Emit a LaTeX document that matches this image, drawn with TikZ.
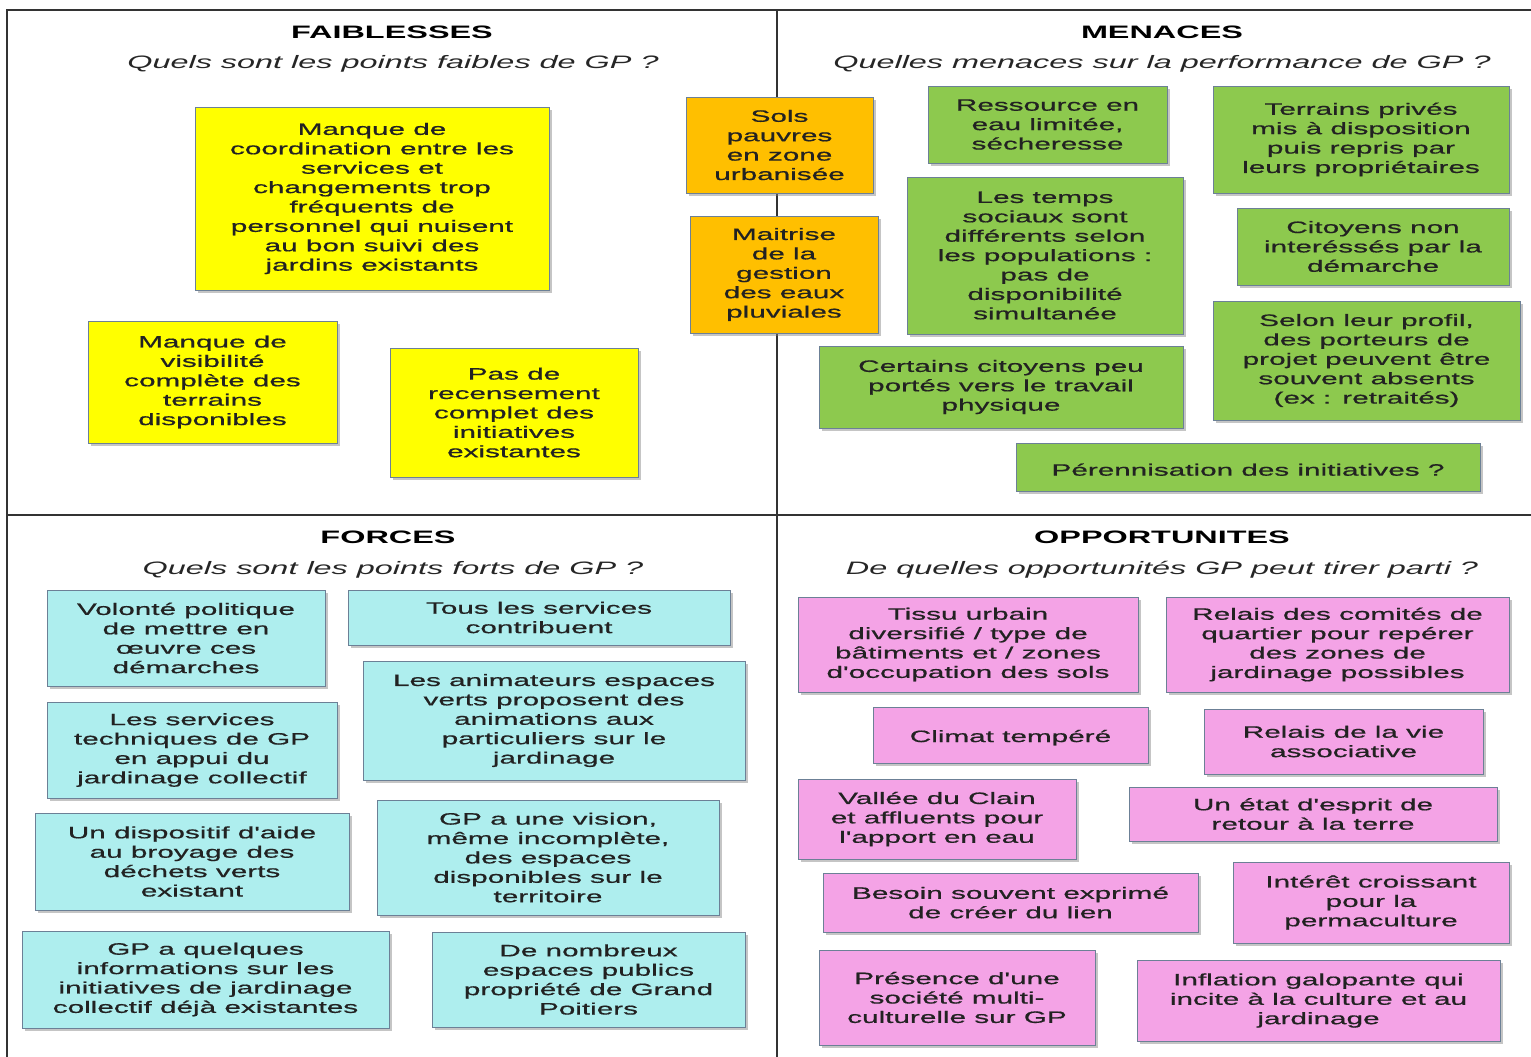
\documentclass[tikz,border=0pt]{standalone}
\usepackage{fontspec}
\setmainfont{Liberation Sans}[FakeStretch=1.8]
\newfontfamily\notefont{Liberation Sans}[FakeStretch=1.8, FakeBold=0.7]
\usetikzlibrary{shadows}

\definecolor{weakfill}{HTML}{FFFF00}
\definecolor{sharedfill}{HTML}{FFBF00}
\definecolor{threatfill}{HTML}{8DC94E}
\definecolor{strongfill}{HTML}{AEEEEE}
\definecolor{chancefill}{HTML}{F4A3E6}
\definecolor{noteedge}{HTML}{6C8096}
\definecolor{notetext}{HTML}{222222}

\tikzset{
  note/.style={draw=noteedge, line width=0.8pt, align=center, inner sep=0pt,
    text=notetext, font=\notefont\fontsize{16.5}{19.4}\selectfont,
    execute at begin node={\rule{0pt}{17.5pt}},
    drop shadow={shadow xshift=2.5pt, shadow yshift=-2.5pt, opacity=0.45}},
  wh/.style 2 args={minimum width=#1pt, minimum height=#2pt},
  weak/.style={note, fill=weakfill},
  shared/.style={note, fill=sharedfill},
  threat/.style={note, fill=threatfill},
  strong/.style={note, fill=strongfill},
  chance/.style={note, fill=chancefill},
  heading/.style={font=\fontsize{18}{20}\selectfont\bfseries, text=black},
  question/.style={font=\fontsize{18}{20}\selectfont\itshape, text=black!85},
  frame/.style={draw=black!80, line width=1.2pt}
}

\begin{document}
\begin{tikzpicture}[x=1pt, y=-1pt]

\useasboundingbox (0,0) rectangle (1531,1057);
\fill [white] (0,0) rectangle (1531,1057);

\draw [frame] (7,1057) -- (7,10) -- (1531,10);
\draw [frame] (7,515) -- (1531,515);
\draw [frame] (777,10) -- (777,1057);

\node [heading] (weaktitle) at (392,32) {FAIBLESSES};
\node [question] (weakquestion) at (393,63.5) {Quels sont les points faibles de GP ?};
\node [heading] (threattitle) at (1162,32) {MENACES};
\node [question] (threatquestion) at (1162,63.5) {Quelles menaces sur la performance de GP ?};
\node [heading] (strongtitle) at (388,537) {FORCES};
\node [question] (strongquestion) at (393,569.5) {Quels sont les points forts de GP ?};
\node [heading] (chancetitle) at (1162,537) {OPPORTUNITES};
\node [question] (chancequestion) at (1162,569.5) {De quelles opportunités GP peut tirer parti ?};

\node [weak, wh={354}{183}] (coordination) at (372,198.5) {Manque de\\coordination entre les\\services et\\changements trop\\fréquents de\\personnel qui nuisent\\au bon suivi des\\jardins existants};
\node [weak, wh={249}{122}] (visibilite) at (212.5,382) {Manque de\\visibilité\\complète des\\terrains\\disponibles};
\node [weak, wh={248}{129}] (recensement) at (514,412.5) {Pas de\\recensement\\complet des\\initiatives\\existantes};

\node [shared, wh={187}{96}] (sols) at (779.5,145) {Sols\\pauvres\\en zone\\urbanisée};
\node [shared, wh={188}{117}] (pluviales) at (784,274.5) {Maitrise\\de la\\gestion\\des eaux\\pluviales};

\node [threat, wh={239}{77}] (ressource) at (1047.5,124.5) {Ressource en\\eau limitée,\\sécheresse};
\node [threat, wh={296}{107}] (prives) at (1361,139.5) {Terrains privés\\mis à disposition\\puis repris par\\leurs propriétaires};
\node [threat, wh={276}{157}] (temps) at (1045,255.5) {Les temps\\sociaux sont\\différents selon\\les populations :\\pas de\\disponibilité\\simultanée};
\node [threat, wh={272}{77}] (interesses) at (1373,246.5) {Citoyens non\\interéssés par la\\démarche};
\node [threat, wh={364}{82}] (physique) at (1001,387) {Certains citoyens peu\\portés vers le travail\\physique};
\node [threat, wh={307}{119}] (absents) at (1366.5,360.5) {Selon leur profil,\\des porteurs de\\projet peuvent être\\souvent absents\\(ex : retraités)};
\node [threat, wh={464}{48}] (perennisation) at (1248,467) {Pérennisation des initiatives ?};

\node [strong, wh={278}{96}] (volonte) at (186,638) {Volonté politique\\de mettre en\\œuvre ces\\démarches};
\node [strong, wh={382}{55}] (services) at (539,617.5) {Tous les services\\contribuent};
\node [strong, wh={382}{119}] (animateurs) at (554,720.5) {Les animateurs espaces\\verts proposent des\\animations aux\\particuliers sur le\\jardinage};
\node [strong, wh={290}{96}] (techniques) at (192,750) {Les services\\techniques de GP\\en appui du\\jardinage collectif};
\node [strong, wh={314}{97}] (broyage) at (192,861.5) {Un dispositif d'aide\\au broyage des\\déchets verts\\existant};
\node [strong, wh={342}{115}] (vision) at (548,857.5) {GP a une vision,\\même incomplète,\\des espaces\\disponibles sur le\\territoire};
\node [strong, wh={367}{97}] (informations) at (205.5,979.5) {GP a quelques\\informations sur les\\initiatives de jardinage\\collectif déjà existantes};
\node [strong, wh={313}{95}] (publics) at (588.5,979.5) {De nombreux\\espaces publics\\propriété de Grand\\Poitiers};

\node [chance, wh={340}{95}] (tissu) at (968,644.5) {Tissu urbain\\diversifié / type de\\bâtiments et / zones\\d'occupation des sols};
\node [chance, wh={343}{95}] (comites) at (1337.5,644.5) {Relais des comités de\\quartier pour repérer\\des zones de\\jardinage possibles};
\node [chance, wh={275}{56}] (climat) at (1010.5,735) {Climat tempéré};
\node [chance, wh={279}{65}] (associative) at (1343.5,741.5) {Relais de la vie\\associative};
\node [chance, wh={278}{80}] (clain) at (937,819) {Vallée du Clain\\et affluents pour\\l'apport en eau};
\node [chance, wh={368}{54}] (terre) at (1313,814) {Un état d'esprit de\\retour à la terre};
\node [chance, wh={375}{59}] (lien) at (1010.5,902.5) {Besoin souvent exprimé\\de créer du lien};
\node [chance, wh={276}{81}] (permaculture) at (1371,902.5) {Intérêt croissant\\pour la\\permaculture};
\node [chance, wh={276}{95}] (societe) at (957,997.5) {Présence d'une\\société multi-\\culturelle sur GP};
\node [chance, wh={363}{81}] (inflation) at (1318.5,1000.5) {Inflation galopante qui\\incite à la culture et au\\jardinage};

\end{tikzpicture}
\end{document}
